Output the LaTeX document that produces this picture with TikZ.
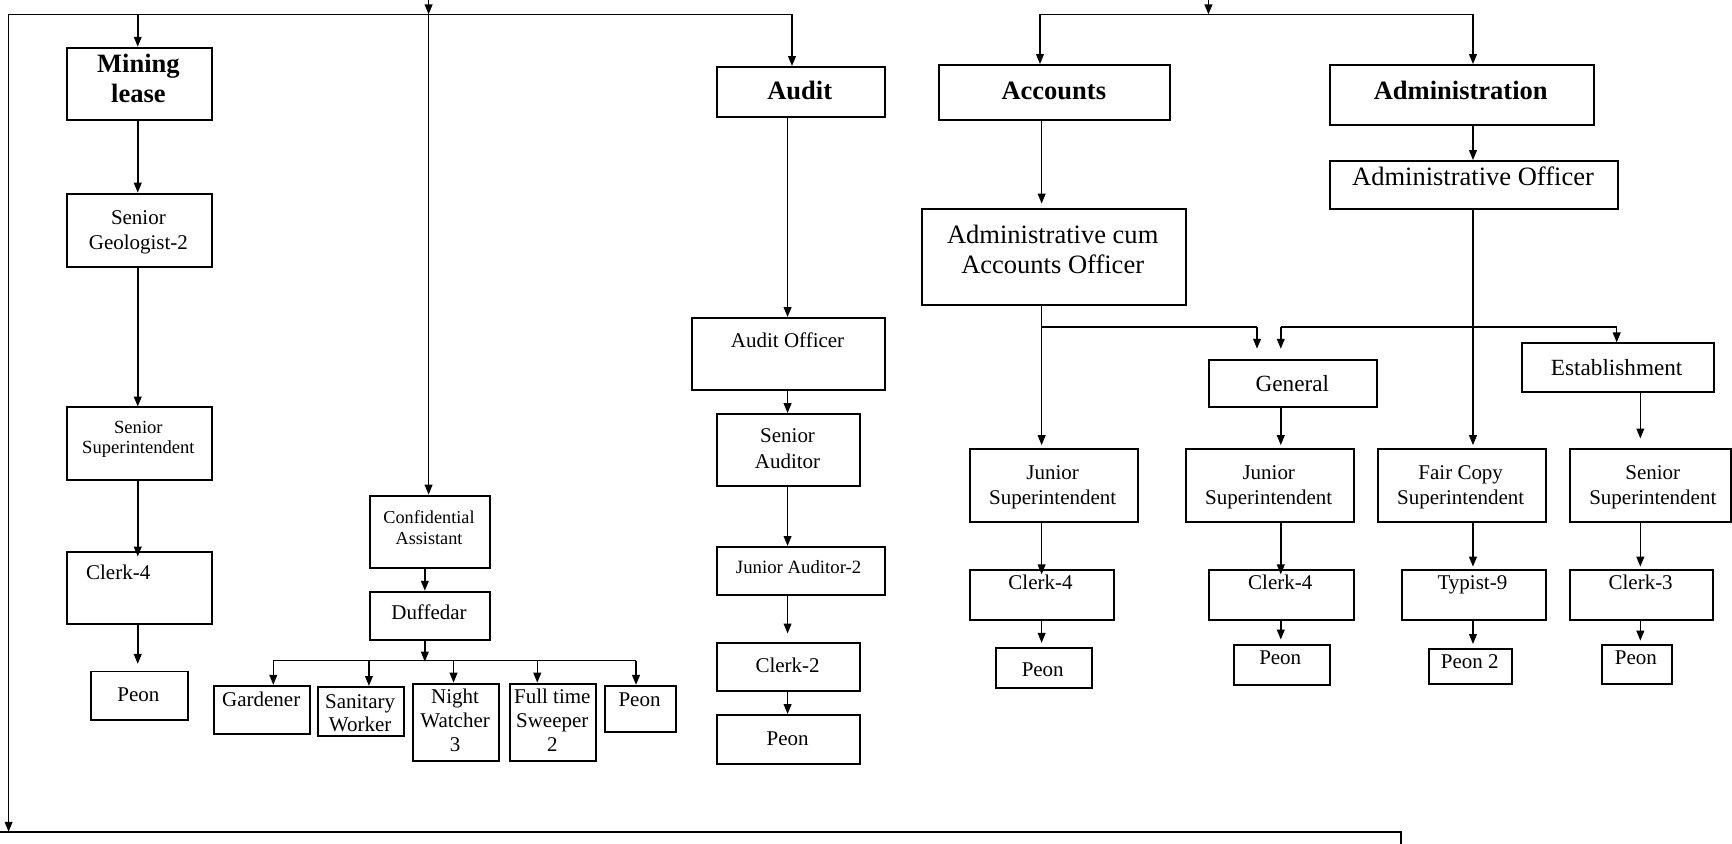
\documentclass[tikz,border=0pt]{standalone}
\usepackage{fontspec}
\setmainfont{Liberation Serif}
\usetikzlibrary{arrows.meta}
\newcommand\obox[5]{\node[box,minimum width={#4-#2},minimum height={#5-#3}] (#1) at (#2,#3) {};}
\newcommand\otxt[5]{\node[lbl,font=#4] (#1) at (#2,#3) {#5};}
\newcommand\fB{\fontsize{24}{27}\bfseries\selectfont}
\newcommand\fL{\fontsize{24}{27.5}\selectfont}
\newcommand\fG{\fontsize{21}{24}\selectfont}
\newcommand\fM{\fontsize{19}{22.5}\selectfont}
\newcommand\fS{\fontsize{17}{19}\selectfont}
\begin{document}
\begin{tikzpicture}[x=1pt,y=-1pt,
  box/.style={draw,line width=1.8pt,inner sep=0pt,anchor=north west},
  lbl/.style={anchor=base,inner sep=0pt,align=center},
  conn/.style={line width=1.4pt},
  arr/.style={line width=1.4pt,-{Triangle[length=9pt,width=7pt]}}]
\useasboundingbox (0,0) rectangle (1568,764);
% ---------- boxes ----------
\obox{ml}{60}{42.3}{190.7}{107.7}
\obox{sg}{60}{174.4}{190.7}{240.5}
\obox{ss}{60}{368}{190.7}{434}
\obox{clL}{60}{498.8}{190.7}{563.7}
\obox{peL}{81.6}{607}{169}{651}
\obox{ca}{334}{447.8}{442.8}{513}
\obox{duf}{334}{534.8}{442.8}{578.2}
\obox{gar}{193}{620}{280}{664}
\obox{san}{287}{621}{365}{665}
\obox{nig}{373}{618}{451}{688}
\obox{swe}{461}{618}{539}{688}
\obox{peD}{547}{620}{611}{662}
\obox{aud}{648}{59.8}{800}{105}
\obox{ao}{626}{287}{800}{352.6}
\obox{sa}{648}{374}{778}{439}
\obox{ja}{648}{494.3}{800}{538}
\obox{c2}{648}{581.5}{778}{624.7}
\obox{pa}{648}{646.4}{778}{690.5}
\obox{acc}{849}{58}{1058.4}{107.7}
\obox{adm}{1202.8}{58}{1442}{112.3}
\obox{acao}{833.8}{188.3}{1072.7}{275.5}
\obox{aof}{1202.8}{144.9}{1463.6}{188.6}
\obox{gen}{1094}{324.7}{1246}{368}
\obox{est}{1376.7}{310}{1550.5}{353.7}
\obox{jsA}{877}{406}{1029}{472}
\obox{jsB}{1073}{406}{1225}{472}
\obox{fcs}{1247}{406}{1399}{472}
\obox{ssR}{1420}{406}{1566}{472}
\obox{c4A}{877}{515}{1008}{560}
\obox{c4B}{1094}{515}{1225}{560}
\obox{typ}{1268}{515}{1399}{560}
\obox{c3}{1420}{515}{1550}{560}
\obox{pA}{901}{586}{988}{622}
\obox{pB}{1116}{583}{1203}{619}
\obox{p2}{1293}{587}{1368}{618}
\obox{pC}{1449}{583}{1513}{618}
% ---------- texts (base = last line's baseline) ----------
\otxt{ml-t}{125.3}{93}{\fB}{Mining\\lease}
\otxt{sg-t}{125.3}{225.5}{\fM}{Senior\\Geologist-2}
\otxt{ss-t}{125.3}{411}{\fontsize{16.8}{19}\selectfont}{Senior\\Superintendent}
\otxt{clL-t}{107}{525}{\fM}{Clerk-4}
\otxt{peL-t}{125.3}{635}{\fM}{Peon}
\otxt{ca-t}{388.4}{492.6}{\fontsize{16.5}{19}\selectfont}{Confidential\\Assistant}
\otxt{duf-t}{388.4}{561}{\fM}{Duffedar}
\otxt{gar-t}{236.5}{640}{\fM}{Gardener}
\otxt{san-t}{326}{662}{\fontsize{19}{21}\selectfont}{Sanitary\\Worker}
\otxt{nig-t}{412}{680.6}{\fontsize{19}{22}\selectfont}{Night\\Watcher\\3}
\otxt{swe-t}{500}{680.6}{\fontsize{19}{22}\selectfont}{Full time\\Sweeper\\2}
\otxt{peD-t}{579}{640}{\fM}{Peon}
\otxt{aud-t}{724}{90.5}{\fB}{Audit}
\otxt{ao-t}{713}{315}{\fM}{Audit Officer}
\otxt{sa-t}{713}{424}{\fontsize{19}{23}\selectfont}{Senior\\Auditor}
\otxt{ja-t}{723}{519.6}{\fS}{Junior Auditor-2}
\otxt{c2-t}{713}{609}{\fM}{Clerk-2}
\otxt{pa-t}{713}{674.5}{\fM}{Peon}
\otxt{acc-t}{954}{90}{\fB}{Accounts}
\otxt{adm-t}{1322.4}{90}{\fB}{Administration}
\otxt{acao-t}{953}{247.5}{\fL}{Administrative cum\\Accounts Officer}
\otxt{aof-t}{1333.5}{168}{\fL}{Administrative Officer}
\otxt{gen-t}{1170}{354.5}{\fG}{General}
\otxt{est-t}{1463.6}{340}{\fG}{Establishment}
\otxt{jsA-t}{953}{457}{\fM}{Junior\\Superintendent}
\otxt{jsB-t}{1148.6}{457}{\fM}{Junior\\Superintendent}
\otxt{fcs-t}{1322.4}{457}{\fM}{Fair Copy\\Superintendent}
\otxt{ssR-t}{1496.3}{457}{\fM}{Senior\\Superintendent}
\otxt{c4A-t}{942}{534}{\fM}{Clerk-4}
\otxt{c4B-t}{1159}{534}{\fM}{Clerk-4}
\otxt{typ-t}{1333}{534}{\fM}{Typist-9}
\otxt{c3-t}{1485.3}{534}{\fM}{Clerk-3}
\otxt{pA-t}{944}{612.6}{\fM}{Peon}
\otxt{pB-t}{1159}{602}{\fM}{Peon}
\otxt{p2-t}{1330.6}{605}{\fM}{Peon 2}
\otxt{pC-t}{1481}{602}{\fM}{Peon}
% ---------- coordinates ----------
\coordinate (inL) at (388,0);
\coordinate (jL) at (388,13);
\coordinate (busL) at (7.8,13);
\coordinate (busR) at (717,13);
\coordinate (xML) at (124.7,13);
\coordinate (bl) at (7.8,753);
\coordinate (b0) at (0,753);
\coordinate (b1) at (1268,753);
\coordinate (b2) at (1268,764);
\coordinate (inR) at (1094,0);
\coordinate (jR) at (1094,13);
\coordinate (rbL) at (941.5,13);
\coordinate (rbR) at (1333.5,13);
\coordinate (xD) at (384.6,0);
\coordinate (d1) at (247.4,598);
\coordinate (d2) at (334,598);
\coordinate (d3) at (410.6,598);
\coordinate (d4) at (486.4,598);
\coordinate (d5) at (575.8,598);
\coordinate (xAu) at (713,0);
\coordinate (xAc) at (943,0);
\coordinate (brA) at (943,296);
\coordinate (brB) at (1138,296);
\coordinate (brC) at (1159.5,296);
\coordinate (brD) at (1463.6,296);
\coordinate (xG) at (1159.5,0);
\coordinate (xE) at (1485,0);
% ---------- connectors ----------
\draw[arr] (inL) -- (jL);
\draw[conn] (busL) -- (busR);
\draw[arr] (busL) -- (bl);
\draw[arr] (xML) -- (xML |- ml.north);
\draw[arr] (jL) -- (jL |- ca.north);
\draw[arr] (busR) -- (busR |- aud.north);
\draw[line width=1.6pt] (b0) -- (b1) -- (b2);
\draw[arr] (ml.south -| xML) -- (sg.north -| xML);
\draw[arr] (sg.south -| xML) -- (ss.north -| xML);
\draw[arr] (ss.south -| xML) -- ([yshift=-5pt]clL.north -| xML);
\draw[arr,shorten >=6pt] (clL.south -| xML) -- (peL.north -| xML);
\draw[arr] (ca.south -| xD) -- (duf.north -| xD);
\draw[arr,shorten >=-1pt] (duf.south -| xD) -- (xD |- d1);
\draw[conn] (d1) -- (d5);
\draw[arr] (d1) -- (d1 |- gar.north);
\draw[arr] (d2) -- (d2 |- san.north);
\draw[arr] (d3) -- (d3 |- nig.north);
\draw[arr] (d4) -- (d4 |- swe.north);
\draw[arr] (d5) -- (d5 |- peD.north);
\draw[arr] (aud.south -| xAu) -- (ao.north -| xAu);
\draw[arr] (ao.south -| xAu) -- (sa.north -| xAu);
\draw[arr] (sa.south -| xAu) -- (ja.north -| xAu);
\draw[arr,shorten >=8pt] (ja.south -| xAu) -- (c2.north -| xAu);
\draw[arr] (c2.south -| xAu) -- (pa.north -| xAu);
\draw[arr] (inR) -- (jR);
\draw[conn] (rbL) -- (rbR);
\draw[arr] (rbL) -- (rbL |- acc.north);
\draw[arr] (rbR) -- (rbR |- adm.north);
\draw[arr,shorten >=4pt] (acc.south -| xAc) -- (acao.north -| xAc);
\draw[arr] (adm.south -| rbR) -- (aof.north -| rbR);
\draw[arr,shorten >=3pt] (acao.south -| xAc) -- (jsA.north -| xAc);
\draw[conn] (brA) -- (brB);
\draw[arr,shorten >=9pt] (brB) -- (brB |- gen.north);
\draw[arr,shorten >=3pt] (aof.south -| rbR) -- (fcs.north -| rbR);
\draw[conn] (brC) -- (brD);
\draw[arr,shorten >=9pt] (brC) -- (brC |- gen.north);
\draw[arr] (brD) -- (brD |- est.north);
\draw[arr,shorten >=3pt] (gen.south -| xG) -- (jsB.north -| xG);
\draw[arr,shorten >=9pt] (est.south -| xE) -- (ssR.north -| xE);
\draw[arr] (jsA.south -| xAc) -- ([yshift=-5pt]c4A.north -| xAc);
\draw[arr] (jsB.south -| xG) -- ([yshift=-5pt]c4B.north -| xG);
\draw[arr,shorten >=2pt] (fcs.south -| rbR) -- (typ.north -| rbR);
\draw[arr,shorten >=2pt] (ssR.south -| xE) -- (c3.north -| xE);
\draw[arr,shorten >=4pt] (c4A.south -| xAc) -- (pA.north -| xAc);
\draw[arr,shorten >=4pt] (c4B.south -| xG) -- (pB.north -| xG);
\draw[arr,shorten >=4pt] (typ.south -| rbR) -- (p2.north -| rbR);
\draw[arr,shorten >=3pt] (c3.south -| xE) -- (pC.north -| xE);
\end{tikzpicture}
\end{document}
